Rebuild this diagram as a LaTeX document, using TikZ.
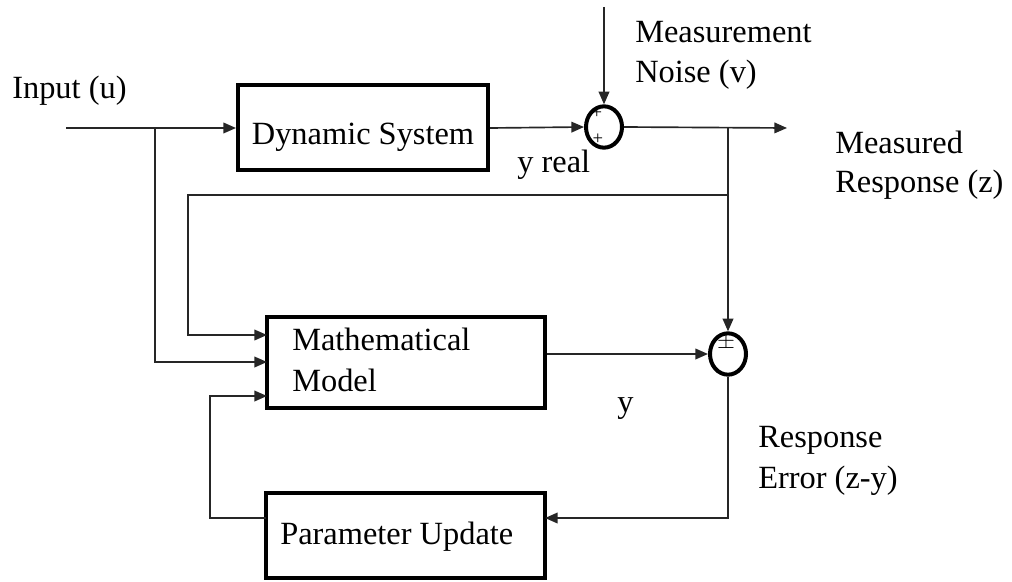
\documentclass[tikz,border=0pt]{standalone}
\usepackage{fontspec}
\setmainfont{Liberation Serif}
\usetikzlibrary{arrows.meta,shapes.geometric}
\tikzset{
  blockbox/.style={draw=black, line width=3pt, minimum width=#1, inner sep=0pt},
  sumnode/.style={draw=black, ellipse, line width=3pt, minimum width=27pt, minimum height=31pt, inner sep=0pt},
  wire/.style={draw=black!85, line width=1.25pt},
  arr/.style={wire, -{Triangle[length=9.5pt,width=8pt]}},
  lbl/.style={anchor=base west, inner sep=0pt, font=\fontsize{24.3}{29}\selectfont},
  sign/.style={inner sep=0pt, font=\fontsize{14}{15}\selectfont}
}
\begin{document}
\begin{tikzpicture}[x=0.75pt, y=-0.75pt]
  \path[use as bounding box] (0,0) rectangle (1012,581);

  % blocks
  \node[blockbox=187.5pt, minimum height=63.75pt] (ds) at (363,127.5) {};
  \node[blockbox=208.5pt, minimum height=68.25pt] (mm) at (406,362.5) {};
  \node[blockbox=209.25pt, minimum height=63.75pt] (pu) at (405.5,535.5) {};

  % summing junctions
  \node[sumnode] (s1) at (604,127) {};
  \node[sumnode] (s2) at (728,354) {};
  \node[sign] (s1a) at (597,113) {+};
  \node[sign] (s1b) at (598,139) {+};
  \node[sign, font=\fontsize{18}{19}\selectfont] (s2a) at (726,343) {$\pm$};

  % block texts
  \node[anchor=base, inner sep=0pt, font=\fontsize{24.3}{29}\selectfont] (tdsys) at (363,144) {Dynamic System};
  \node[lbl] (tmm1) at (292,350) {Mathematical};
  \node[lbl] (tmm2) at (292,391) {Model};
  \node[lbl] (tpu) at (280,544) {Parameter Update};

  % signal labels
  \node[lbl] (tin) at (12,99) {Input (u)};
  \node[lbl] (tyr) at (517,172) {y real};
  \node[lbl] (tmn1) at (635,43) {Measurement};
  \node[lbl] (tmn2) at (635,83) {Noise (v)};
  \node[lbl] (tmr1) at (835,153) {Measured};
  \node[lbl] (tmr2) at (835,192) {Response (z)};
  \node[lbl] (ty) at (617,412) {y};
  \node[lbl] (tre1) at (758,447) {Response};
  \node[lbl] (tre2) at (758,488) {Error (z-y)};

  % connection points
  \coordinate (in) at (66,128);
  \coordinate (ib) at (155,128);
  \coordinate (nz) at (604,7);
  \coordinate (out) at (787,128);
  \coordinate (tap) at (728,128);
  \coordinate (fb) at (728,195);
  \coordinate (fbl) at (188,195);
  \coordinate (m1) at (267,335);
  \coordinate (m2) at (267,362);
  \coordinate (m3) at (267,396);
  \coordinate (pin) at (545,518);
  \coordinate (pout) at (266,518);
  \coordinate (pl) at (210,518);

  % connectors
  \draw[arr] (in) -- (ds.west |- in);
  \draw[arr] (ds.east |- in) -- (s1.west);
  \draw[arr] (nz) -- (s1.north);
  \draw[arr] (s1.east) -- (out);
  \draw[arr] (tap) -- (s2.north);
  \draw[arr] (fb) -- (fbl) |- (m1);
  \draw[arr] (ib) |- (m2);
  \draw[arr] (s2.west -| mm.east) -- (s2.west);
  \draw[arr] (s2.south) |- (pin);
  \draw[arr] (pout) -- (pl) |- (m3);
\end{tikzpicture}
\end{document}
